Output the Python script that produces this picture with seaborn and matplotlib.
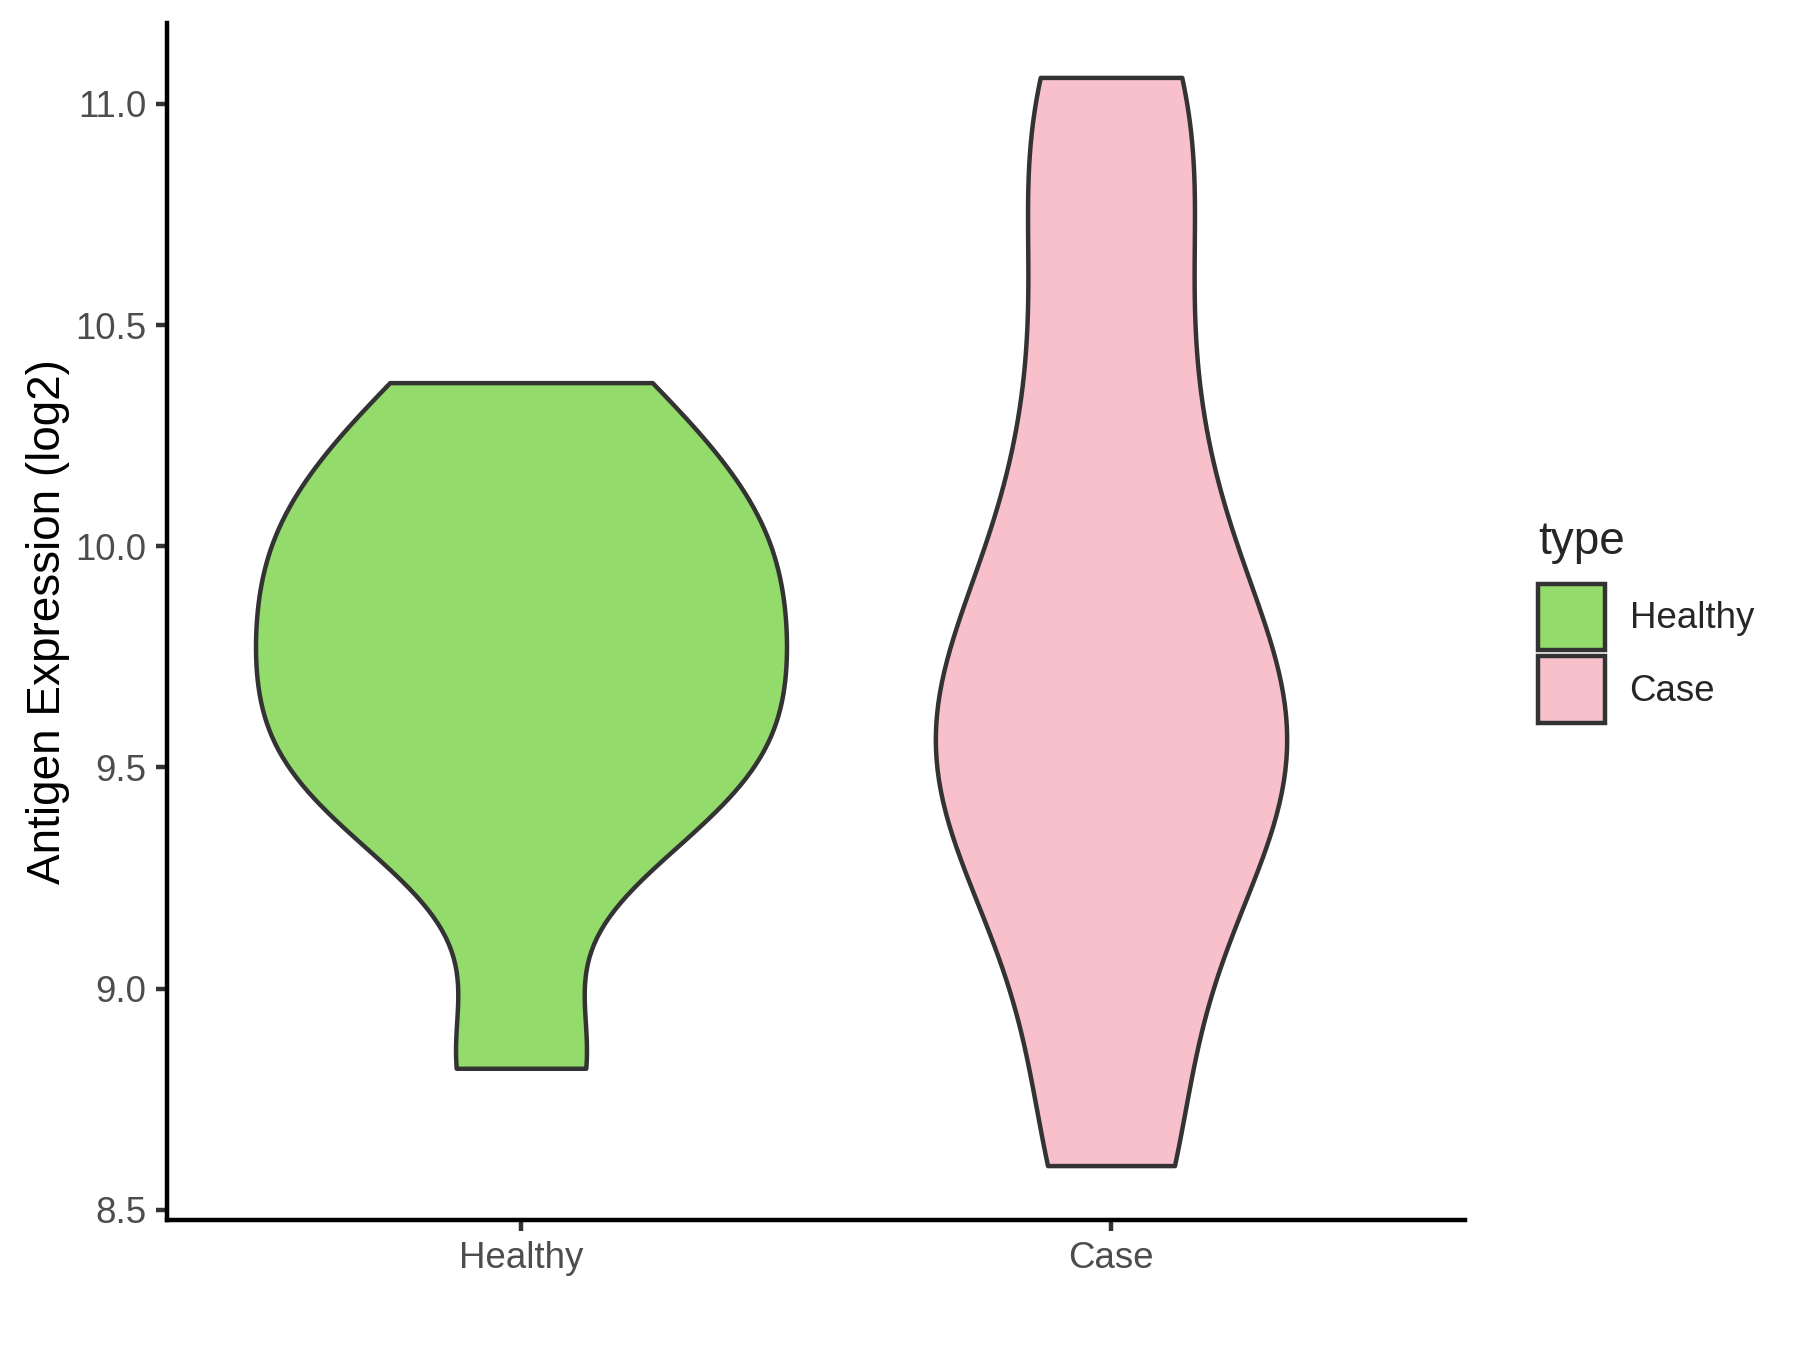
import matplotlib
matplotlib.use("Agg")
import matplotlib.pyplot as plt
import seaborn as sns
import pandas as pd
from matplotlib.patches import Patch

# ---- data ----
categories = ["Healthy", "Case"]
healthy_values = [8.82, 9.35, 9.47, 9.58, 9.70, 9.82, 9.95, 10.05, 10.18, 10.37]
case_values = [8.60, 8.66, 9.12, 9.18, 9.42, 9.48, 9.54, 9.60,
               9.72, 9.78, 10.02, 10.20, 10.45, 10.75, 11.00, 11.06]
fill_colors = ["#93DB6B", "#F7C0CB"]
y_ticks = [8.5, 9.0, 9.5, 10.0, 10.5, 11.0]
y_tick_labels = ["8.5", "9.0", "9.5", "10.0", "10.5", "11.0"]
y_label = "Antigen Expression (log2)"
legend_title = "type"

sns.set_theme(style="white")
plt.rcParams["font.family"] = ["Liberation Sans", "DejaVu Sans"]

df = pd.DataFrame({
    "type": [categories[0]] * len(healthy_values) + [categories[1]] * len(case_values),
    "value": healthy_values + case_values,
})

fig = plt.figure(figsize=(6, 4.5), dpi=300)
ax = fig.add_axes([167 / 1800, 130 / 1350, 1298 / 1800, 1197 / 1350])

sns.violinplot(
    data=df, x="type", y="value", hue="type",
    order=categories, hue_order=categories,
    palette=dict(zip(categories, fill_colors)),
    cut=0, width=0.9, inner=None, linewidth=1.07, linecolor="#333333",
    density_norm="area", common_norm=True, bw_adjust=0.726,
    saturation=1, legend=False, ax=ax,
)

ax.set_xlim(-0.6, 1.6)
ax.set_ylim(8.477, 11.183)
ax.set_yticks(y_ticks)
ax.set_yticklabels(y_tick_labels)
ax.set_xlabel("")
ax.set_ylabel(y_label, fontsize=11, color="black")
ax.yaxis.set_label_coords(-0.075, 0.5)

for s in ["top", "right"]:
    ax.spines[s].set_visible(False)
for s in ["left", "bottom"]:
    ax.spines[s].set_color("black")
    ax.spines[s].set_linewidth(1.07)

ax.tick_params(axis="both", bottom=True, left=True, length=2.75, width=1.07,
               color="#333333", labelsize=8.8, labelcolor="#4D4D4D", pad=2.2)

handles = [Patch(facecolor=c, edgecolor="#333333", linewidth=1.07) for c in fill_colors]
leg = fig.legend(handles, categories, title=legend_title, loc="upper left",
                 bbox_to_anchor=(0.8544, 0.6148), frameon=False, fontsize=8.8,
                 title_fontsize=11, handlelength=1.82, handleheight=2.42,
                 handletextpad=0.68, labelspacing=0.16, borderpad=0, borderaxespad=0)
leg._legend_box.align = "left"
leg._legend_box.sep = 4.7

fig.savefig("out.png", dpi=300)
